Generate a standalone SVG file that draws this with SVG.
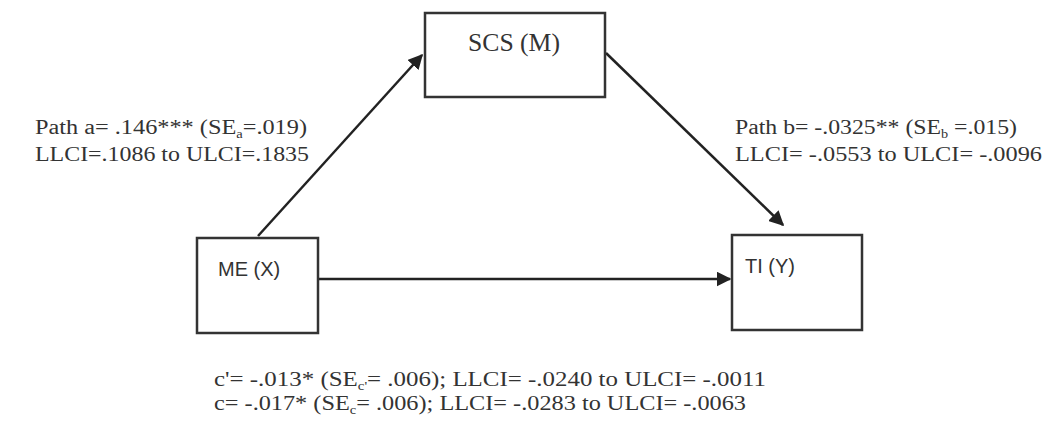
<svg xmlns="http://www.w3.org/2000/svg" width="1063" height="426" viewBox="0 0 1063 426">
<style>
.box{fill:#fff;stroke:#333;stroke-width:2.5}
.conn{stroke:#222;stroke-width:2.5;fill:none}
.lbl{font-family:"Liberation Serif","Times New Roman",serif;font-size:20px;fill:#333}
.sans{font-family:"Liberation Sans",Arial,sans-serif;font-size:20px;fill:#333}
.sub{font-size:12px}
</style>
<defs>
<marker id="ah" viewBox="0 0 10 10" refX="9" refY="5" markerWidth="6" markerHeight="6" orient="auto" markerUnits="strokeWidth">
<path d="M0,0 L10,5 L0,10 z" fill="#222"/>
</marker>
</defs>
<rect width="1063" height="426" fill="#fff"/>
<g id="connectors">
<line class="conn" x1="258" y1="236" x2="422" y2="55" marker-end="url(#ah)"/>
<line class="conn" x1="606" y1="53" x2="783" y2="225" marker-end="url(#ah)"/>
<line class="conn" x1="318" y1="279" x2="730" y2="279" marker-end="url(#ah)"/>
</g>
<g id="node-scs">
<rect class="box" x="425" y="13" width="180" height="84"/>
<text x="514" y="51" text-anchor="middle" textLength="92" lengthAdjust="spacingAndGlyphs" style="font-family:'Liberation Serif','Times New Roman',serif;font-size:25px;fill:#333">SCS (M)</text>
</g>
<g id="node-me">
<rect class="box" x="197" y="238" width="121" height="95"/>
<text class="sans" x="218" y="276">ME (X)</text>
</g>
<g id="node-ti">
<rect class="box" x="732" y="235" width="130" height="95"/>
<text class="sans" x="745" y="273">TI (Y)</text>
</g>
<g id="labels">
<text class="lbl" x="35" y="134" textLength="272" lengthAdjust="spacingAndGlyphs">Path a= .146*** (SE<tspan class="sub" dy="4">a</tspan><tspan dy="-4">=.019)</tspan></text>
<text class="lbl" x="35" y="161" textLength="274" lengthAdjust="spacingAndGlyphs">LLCI=.1086 to ULCI=.1835</text>
<text class="lbl" x="735" y="134" textLength="282" lengthAdjust="spacingAndGlyphs">Path b= -.0325** (SE<tspan class="sub" dy="4">b</tspan><tspan dy="-4"> =.015)</tspan></text>
<text class="lbl" x="735" y="161" textLength="307" lengthAdjust="spacingAndGlyphs">LLCI= -.0553 to ULCI= -.0096</text>
<text class="lbl" x="214" y="386" textLength="552" lengthAdjust="spacingAndGlyphs">c'= -.013* (SE<tspan class="sub" dy="4">c'</tspan><tspan dy="-4">= .006); LLCI= -.0240 to ULCI= -.0011</tspan></text>
<text class="lbl" x="214" y="410" textLength="532" lengthAdjust="spacingAndGlyphs">c= -.017* (SE<tspan class="sub" dy="4">c</tspan><tspan dy="-4">= .006); LLCI= -.0283 to ULCI= -.0063</tspan></text>
</g>
</svg>
